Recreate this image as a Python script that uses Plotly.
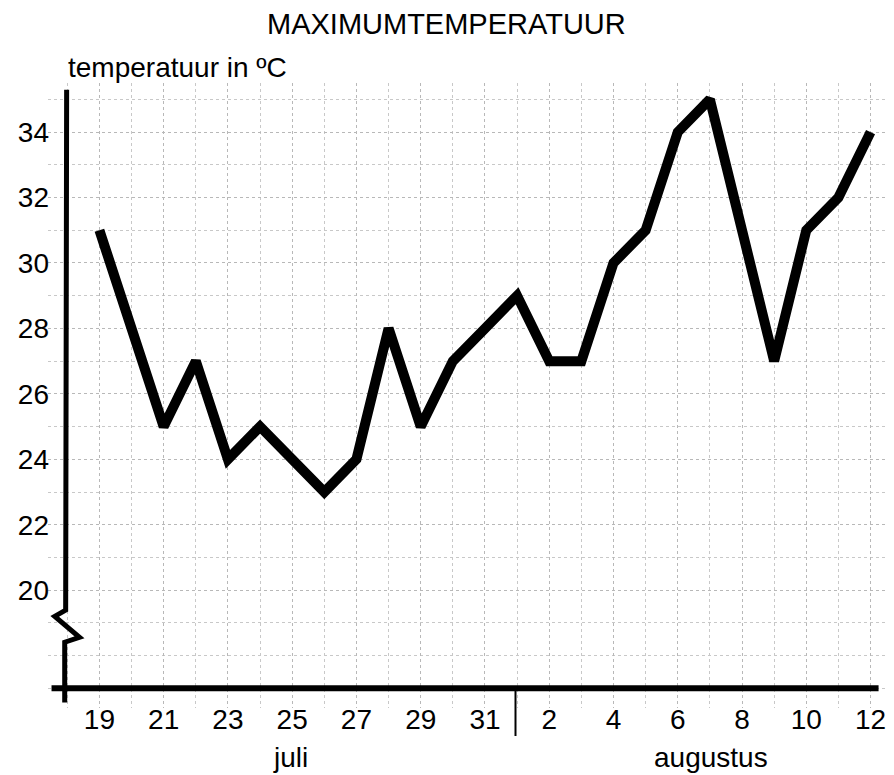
import plotly.graph_objects as go

# Data: daily maximum temperature, 19 July .. 12 August
days = ["19 jul", "20 jul", "21 jul", "22 jul", "23 jul", "24 jul", "25 jul", "26 jul",
        "27 jul", "28 jul", "29 jul", "30 jul", "31 jul", "1 aug", "2 aug", "3 aug",
        "4 aug", "5 aug", "6 aug", "7 aug", "8 aug", "9 aug", "10 aug", "11 aug", "12 aug"]
temps = [31, 28, 25, 27, 24, 25, 24, 23, 24, 28, 25, 27, 28, 29, 27, 27,
         30, 31, 34, 35, 31, 27, 31, 32, 34]
x_tick_labels = ["19", "21", "23", "25", "27", "29", "31", "2", "4", "6", "8", "10", "12"]
x_tick_idx = [0, 2, 4, 6, 8, 10, 12, 14, 16, 18, 20, 22, 24]
y_ticks = [20, 22, 24, 26, 28, 30, 32, 34]

xi = list(range(len(days)))
FONT = "Liberation Sans, Arial, sans-serif"

# the page body has an 8px margin, so the figure is laid out 8px smaller/offset
OFF = 8
W, H = 894 - OFF, 775 - OFF
ML, MR, MT, MB = 48 - OFF, 9, 83 - OFF, 67
PW, PH = W - ML - MR, H - MT - MB


def px_x(p):  # reference pixel -> paper x
    return (p - OFF - ML) / PW


def px_y(p):  # reference pixel -> paper y
    return (H - MB - (p - OFF)) / PH


fig = go.Figure()
fig.add_trace(go.Scatter(x=xi, y=temps, mode="lines",
                         line=dict(color="black", width=10),
                         hovertext=days, hoverinfo="text+y",
                         cliponaxis=False))

grid = dict(showgrid=True, gridcolor="#b8b8b8", gridwidth=1, griddash="dot")
fig.update_xaxes(range=[-1.6, 24.45], tickvals=x_tick_idx, ticktext=x_tick_labels,
                 showline=False, zeroline=False, ticks="", automargin=False,
                 ticklabelstandoff=-8,
                 tickfont=dict(family=FONT, size=28, color="black"),
                 minor=dict(dtick=1, tick0=0, showgrid=True, gridcolor="#c8c8c8",
                            griddash="dot", gridwidth=1),
                 **grid)
fig.update_yaxes(range=[16.4, 35.5], tickvals=y_ticks, showline=False, zeroline=False,
                 ticks="", automargin=False, ticklabelstandoff=-2,
                 tickfont=dict(family=FONT, size=28, color="black"),
                 minor=dict(dtick=1, tick0=17, showgrid=True, gridcolor="#c8c8c8",
                            griddash="dot", gridwidth=1),
                 **grid)

# axes drawn as shapes (y-axis with break zigzag)
fig.add_shape(type="path", xref="x", yref="y", layer="above",
              path="M -1.02 35.29 L -1.05 19.39 L -1.39 19.2 L -0.62 18.56 L -1.08 18.41 L -1.08 16.57",
              line=dict(color="black", width=5))
fig.add_shape(type="line", xref="x", yref="y", layer="above",
              x0=-1.49, x1=24.25, y0=17, y1=17, line=dict(color="black", width=6))
fig.add_shape(type="line", xref="x", yref="paper", layer="above",
              x0=12.95, x1=12.95, y0=px_y(688), y1=px_y(736), line=dict(color="black", width=2))

fig.update_layout(
    width=W, height=H,
    margin=dict(l=ML, r=MR, t=MT, b=MB),
    plot_bgcolor="white", paper_bgcolor="white",
    showlegend=False,
    font=dict(family=FONT, color="black"),
    annotations=[
        dict(text="MAXIMUMTEMPERATUUR", x=px_x(446), y=px_y(24), xref="paper", yref="paper",
             xanchor="center", yanchor="middle", showarrow=False, font=dict(size=29)),
        dict(text="temperatuur in ºC", x=px_x(66), y=px_y(68), xref="paper", yref="paper",
             xanchor="left", yanchor="middle", showarrow=False, font=dict(size=28)),
        dict(text="juli", x=px_x(290), y=px_y(757), xref="paper", yref="paper",
             xanchor="center", yanchor="middle", showarrow=False, font=dict(size=28)),
        dict(text="augustus", x=px_x(711), y=px_y(757), xref="paper", yref="paper",
             xanchor="center", yanchor="middle", showarrow=False, font=dict(size=28)),
    ],
)
fig.write_html("out.html")
